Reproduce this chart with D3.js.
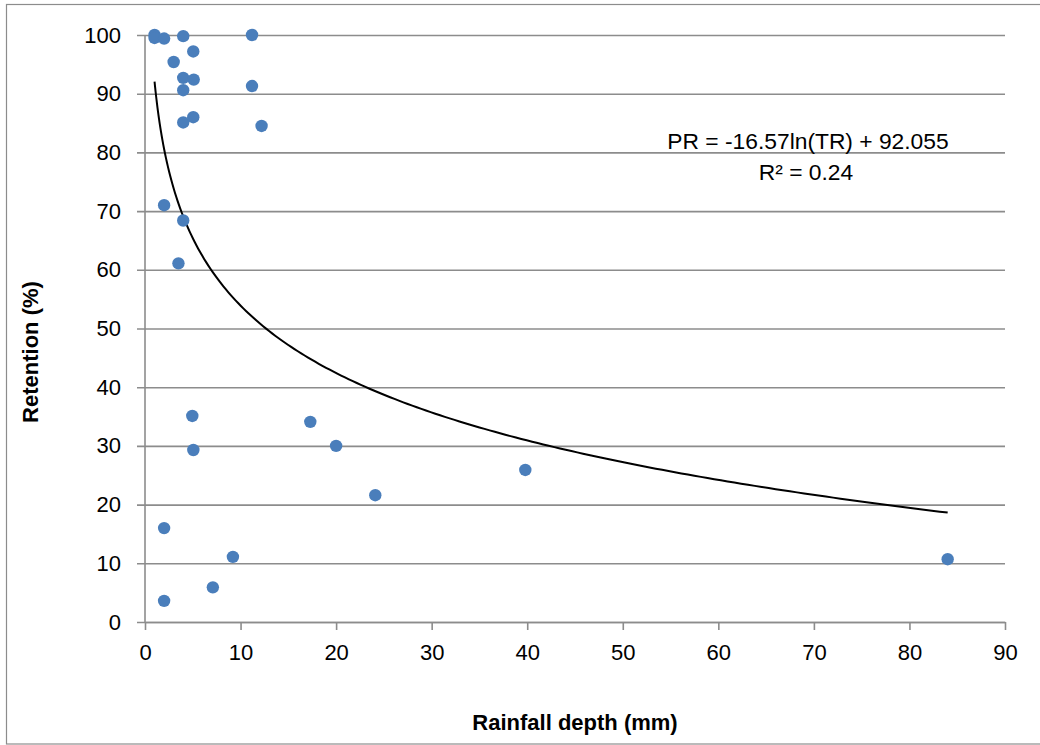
<!DOCTYPE html>
<html>
<head>
<meta charset="utf-8">
<script src="https://cdn.jsdelivr.net/npm/d3@7"></script>
<style>
  body { margin: 0; background: #fff; }
  svg text { font-family: "Liberation Sans", Arial, sans-serif; }
</style>
</head>
<body>
<div id="chart"></div>
<script>
// Rainfall depth (mm) and retention (%) for each event
const rainfall = [1, 1, 2, 4, 11.2, 5.05, 3.0, 4.0, 5.1, 4.0, 11.2, 4.0, 5.05, 12.2,
                  2.0, 4.0, 3.5, 4.95, 5.06, 17.3, 20.0, 24.1, 2.0, 9.2, 7.1, 2.0, 39.8, 84];
const retention = [100, 99.5, 99.4, 99.8, 100, 97.2, 95.4, 92.7, 92.4, 90.6, 91.3, 85.1, 86.0, 84.5,
                   71.0, 68.4, 61.1, 35.1, 29.3, 34.1, 30.0, 21.6, 16.0, 11.1, 5.9, 3.6, 25.9, 10.7];
const xTicks = [0, 10, 20, 30, 40, 50, 60, 70, 80, 90];
const yTicks = [0, 10, 20, 30, 40, 50, 60, 70, 80, 90, 100];

// logarithmic trendline shown on the chart: PR = a*ln(TR) + b
const trendA = -16.57, trendB = 92.055;

function drawScatter() {
    const W = 1040, H = 745;
    const margin = { top: 35, right: 35, bottom: 123, left: 145 },
          width = W - margin.left - margin.right,
          height = H - margin.top - margin.bottom;

    const root = d3.select("#chart").append("svg")
        .attr("width", W)
        .attr("height", H);

    // chart border
    root.append("rect")
        .attr("x", 6.5).attr("y", 4.5)
        .attr("width", W).attr("height", H - 5.5)
        .attr("fill", "none")
        .attr("stroke", "#8c8c8c")
        .attr("stroke-width", 1.2);

    const svg = root.append("g")
        .attr("transform", `translate(${margin.left},${margin.top})`);

    const x = d3.scaleLinear().domain([0, 90]).range([0, width]);
    const y = d3.scaleLinear().domain([0, 100]).range([height, 0]);

    // Y axis with gridlines
    const yAxis = svg.append("g")
        .call(d3.axisLeft(y).tickValues(yTicks).tickSize(-width).tickSizeOuter(0).tickPadding(24));
    yAxis.select(".domain").remove();
    yAxis.selectAll(".tick line")
        .attr("x1", -8)
        .attr("stroke", "#8c8c8c")
        .attr("stroke-width", 1.6);
    yAxis.selectAll("text")
        .attr("x", -24)
        .style("font-size", "22px")
        .attr("fill", "#000");

    svg.append("line")
        .attr("x1", 0).attr("x2", 0)
        .attr("y1", 0).attr("y2", height)
        .attr("stroke", "#8c8c8c")
        .attr("stroke-width", 1.6);

    // X axis
    const xAxis = svg.append("g")
        .attr("transform", `translate(0,${height})`)
        .call(d3.axisBottom(x).tickValues(xTicks).tickSize(8).tickSizeOuter(0).tickPadding(14));
    xAxis.select(".domain")
        .attr("stroke", "#8c8c8c")
        .attr("stroke-width", 1.6);
    xAxis.selectAll(".tick line")
        .attr("stroke", "#8c8c8c")
        .attr("stroke-width", 1.6);
    xAxis.selectAll("text")
        .style("font-size", "22px")
        .attr("fill", "#000");

    // trendline from min to max rainfall
    const xMin = d3.min(rainfall), xMax = d3.max(rainfall);
    const trendX = d3.range(0, 201).map(i => xMin + (xMax - xMin) * Math.pow(i / 200, 2));
    svg.append("path")
        .datum(trendX)
        .attr("fill", "none")
        .attr("stroke", "#000")
        .attr("stroke-width", 2)
        .attr("d", d3.line()
            .x(d => x(d))
            .y(d => y(trendA * Math.log(d) + trendB)));

    // points
    svg.selectAll("circle.pt")
        .data(rainfall.map((r, i) => ({ r: r, p: retention[i] })))
        .enter()
        .append("circle")
        .attr("class", "pt")
        .attr("cx", d => x(d.r))
        .attr("cy", d => y(d.p))
        .attr("r", 6.2)
        .attr("fill", "#4a7ebb");

    // equation label
    svg.append("text")
        .attr("x", 663)
        .attr("y", 114)
        .attr("text-anchor", "middle")
        .style("font-size", "22.8px")
        .text("PR = -16.57ln(TR) + 92.055");
    svg.append("text")
        .attr("x", 661)
        .attr("y", 145)
        .attr("text-anchor", "middle")
        .style("font-size", "22.8px")
        .text("R² = 0.24");

    // axis titles
    svg.append("text")
        .attr("x", width / 2)
        .attr("y", height + 108)
        .attr("text-anchor", "middle")
        .style("font-size", "22px")
        .style("font-weight", "bold")
        .text("Rainfall depth (mm)");

    svg.append("text")
        .attr("transform", "rotate(-90)")
        .attr("x", -(352 - margin.top))
        .attr("y", -107)
        .attr("text-anchor", "middle")
        .style("font-size", "22px")
        .style("font-weight", "bold")
        .text("Retention (%)");
}

drawScatter();
</script>
</body>
</html>
